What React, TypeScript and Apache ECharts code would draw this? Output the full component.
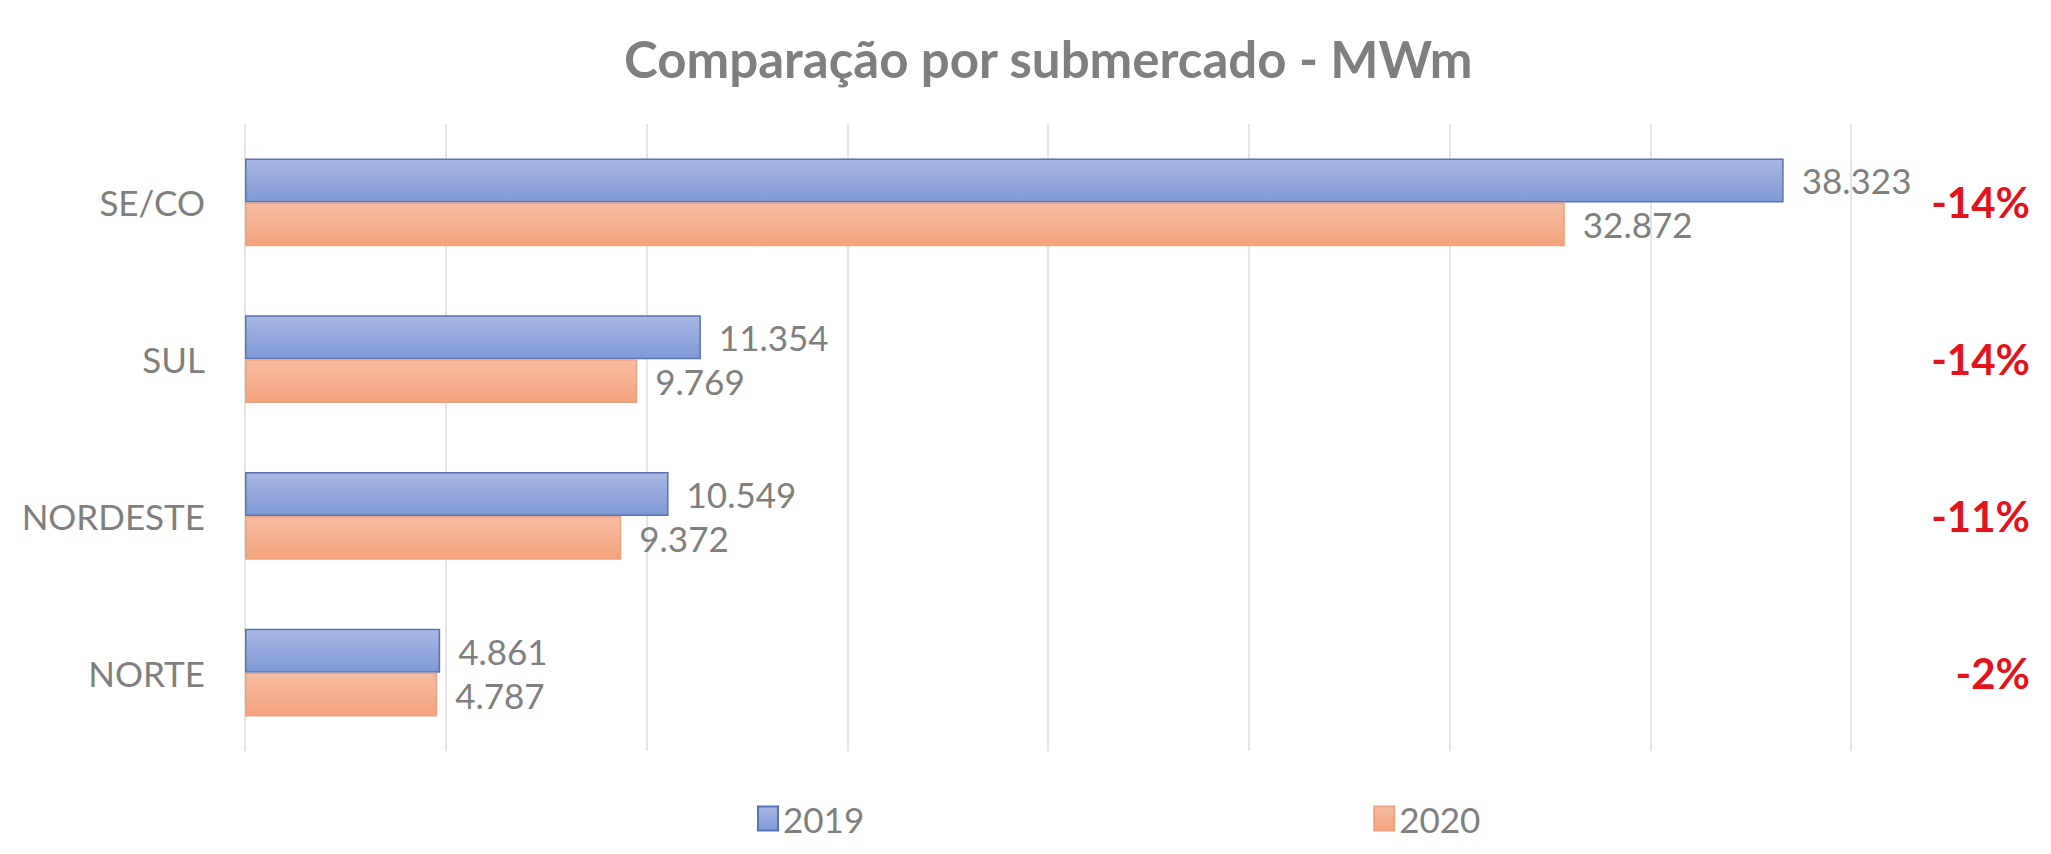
import React, { useEffect, useRef } from "react";
import * as echarts from "echarts";

const titleText = "Comparação por submercado - MWm";
const categories = ["SE/CO", "SUL", "NORDESTE", "NORTE"];
const seriesNames = ["2019", "2020"];
const values2019 = [38323, 11354, 10549, 4861];
const values2020 = [32872, 9769, 9372, 4787];
const changeLabels = ["-14%", "-14%", "-11%", "-2%"];

const FONT = "Lato, 'Open Sans', sans-serif";
const GRAY = "#7f7f7f";

const fmt = (v: number) => v.toLocaleString("de-DE");

export default function App() {
  const ref = useRef<HTMLDivElement>(null);
  useEffect(() => {
    document.body.style.margin = "0";
    if (!ref.current) return;
    const chart = echarts.init(ref.current, null, { renderer: "svg" });
    const blue = new echarts.graphic.LinearGradient(0, 0, 0, 1, [
      { offset: 0, color: "#a9b8e2" },
      { offset: 1, color: "#7f98d6" },
    ]);
    const orange = new echarts.graphic.LinearGradient(0, 0, 0, 1, [
      { offset: 0, color: "#f6bca2" },
      { offset: 1, color: "#f4a27c" },
    ]);
    const labelStyle = {
      show: true,
      position: "right",
      distance: 18,
      fontFamily: FONT,
      fontSize: 35,
      color: GRAY,
      formatter: (p: any) => fmt(p.value),
    };
    chart.setOption({
      animation: false,
      backgroundColor: "#ffffff",
      title: {
        text: titleText,
        left: 619,
        top: 28,
        textStyle: { fontFamily: FONT, fontSize: 51, fontWeight: "bold", color: GRAY },
      },
      legend: {
        data: seriesNames,
        left: 752,
        top: 796,
        itemGap: 509,
        itemWidth: 20,
        itemHeight: 24,
        icon: "rect",
        textStyle: { fontFamily: FONT, fontSize: 35, color: GRAY },
      },
      grid: { left: 245, right: 200, top: 124, bottom: 854 - 751 },
      xAxis: {
        type: "value",
        min: 0,
        max: 40000,
        interval: 5000,
        axisLabel: { show: false },
        axisLine: { show: false },
        axisTick: { show: false },
        splitLine: { show: true, lineStyle: { color: "#dcdcdc", width: 1.5 } },
      },
      yAxis: [
        {
          type: "category",
          data: categories,
          inverse: true,
          axisLine: { show: false },
          axisTick: { show: false },
          axisLabel: { fontFamily: FONT, fontSize: 35, color: GRAY, margin: 40 },
        },
        {
          type: "category",
          data: changeLabels,
          inverse: true,
          position: "right",
          axisLine: { show: false },
          axisTick: { show: false },
          axisLabel: {
            fontFamily: FONT,
            fontSize: 42,
            fontWeight: "bold",
            color: "#e3121b",
            align: "right",
            margin: 179,
          },
        },
      ],
      series: [
        {
          name: seriesNames[0],
          type: "bar",
          data: values2019,
          barGap: "0%",
          barCategoryGap: "44%",
          itemStyle: { color: blue, borderColor: "#5873b4", borderWidth: 1.5 },
          label: labelStyle,
        },
        {
          name: seriesNames[1],
          type: "bar",
          data: values2020,
          barGap: "0%",
          barCategoryGap: "44%",
          itemStyle: { color: orange, borderColor: "#eea27f", borderWidth: 1.5 },
          label: labelStyle,
        },
      ],
    });
    return () => chart.dispose();
  }, []);
  return <div ref={ref} style={{ width: 2051, height: 854 }} />;
}
